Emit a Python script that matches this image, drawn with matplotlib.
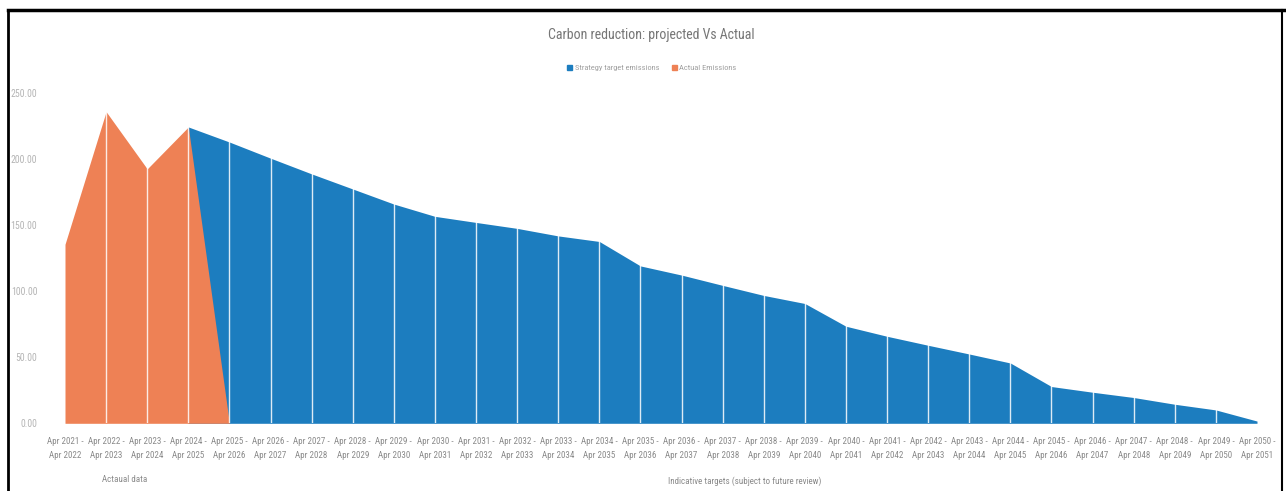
import matplotlib
matplotlib.use("Agg")
import matplotlib.pyplot as plt
import numpy as np
from matplotlib import font_manager
from matplotlib.lines import Line2D
from matplotlib.patches import Patch

# ---------------- data ----------------
start_years = list(range(2021, 2051))
categories = [f"Apr {y} -\nApr {y+1}" for y in start_years]

actual = [135.4, 235.7, 192.4, 224.1, 0.0] + [None] * 25
projected = [None, None, None,
             224.1, 212.7, 200.5, 188.6, 177.2, 165.8, 156.5, 151.9, 147.4, 141.7, 137.5,
             119.0, 112.1, 104.3, 96.7, 90.6, 73.4, 65.8, 59.0, 52.4, 45.6,
             27.8, 23.5, 19.5, 14.4, 10.1, 1.7]
yticks = [0, 50, 100, 150, 200, 250]
ytick_labels = [f"{v:.2f}" for v in yticks]

title = "Carbon reduction: projected Vs Actual"
legend_labels = ["Strategy target emissions", "Actual Emissions"]
note_left = "Actaual data"
note_right = "Indicative targets (subject to future review)"

# ---------------- style ----------------
avail = {f.name for f in font_manager.fontManager.ttflist}
fam = [f for f in ["Liberation Sans Narrow", "Roboto Condensed", "Roboto", "DejaVu Sans"] if f in avail]
plt.rcParams['font.family'] = fam

blue = "#1C7DBF"
orange = "#EE8155"
gray = "#8A8A8A"

fig = plt.figure(figsize=(12.86, 4.91), dpi=100)
ax = fig.add_axes([65/1286, 1 - 423.3/491, (1257-65)/1286, (423.3-92.7)/491])

x = np.arange(len(categories))
proj = np.array([np.nan if v is None else v for v in projected], dtype=float)
act = np.array([np.nan if v is None else v for v in actual], dtype=float)

ax.fill_between(x, 0, proj, where=~np.isnan(proj), color=blue, linewidth=0, zorder=1)
ax.fill_between(x, 0, act, where=~np.isnan(act), color=orange, linewidth=0, zorder=2)
for xi in x[1:-1]:
    ax.axvline(xi, color="white", lw=1.0, alpha=0.85, zorder=3)

ax.set_xlim(0, len(categories) - 1)
ax.set_ylim(0, 250)
ax.set_xticks(x)
ax.set_xticklabels(categories, fontsize=6.5, color=gray, linespacing=1.75)
ax.set_yticks(yticks)
ax.set_yticklabels(ytick_labels, fontsize=7, color="#B5B5B5")
ax.tick_params(axis="x", length=0, pad=10)
ax.tick_params(axis="y", length=0, pad=20)
for s in ax.spines.values():
    s.set_visible(False)

fig.text(651/1286, 1 - 35/491, title, ha="center", va="center", fontsize=10, color="#767676")

handles = [Patch(color=blue), Patch(color=orange)]
leg = fig.legend(handles, legend_labels, loc="center", bbox_to_anchor=(652/1286, 1 - 68/491),
                 ncol=2, frameon=False, fontsize=6, handlelength=0.6, handleheight=0.6,
                 handletextpad=0.3, columnspacing=1.5)
for t in leg.get_texts():
    t.set_color("#A0A0A0")

fig.text(125/1286, 1 - 479/491, note_left, ha="center", va="center", fontsize=6.5, color=gray)
fig.text(745/1286, 1 - 481/491, note_right, ha="center", va="center", fontsize=6.5, color=gray)

# scanned page border
fig.add_artist(Line2D([8/1286, 8/1286], [0, 1 - 10/491], transform=fig.transFigure, color="black", lw=2))
fig.add_artist(Line2D([8/1286, 1284/1286], [1 - 10/491, 1 - 10/491], transform=fig.transFigure, color="black", lw=2.5))
fig.add_artist(Line2D([1282/1286, 1282/1286], [0, 1 - 10/491], transform=fig.transFigure, color="black", lw=1.5))

fig.savefig("out.png", dpi=100)
